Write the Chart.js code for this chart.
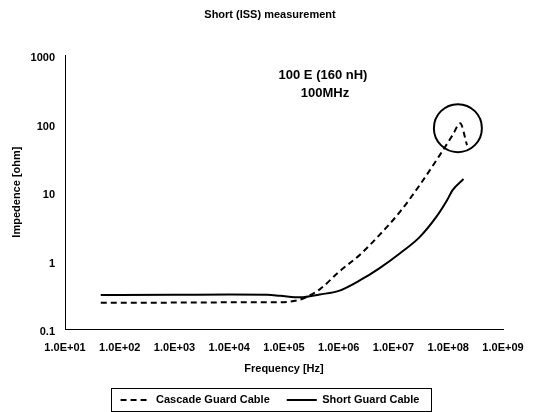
<!DOCTYPE html>
<html>
<head>
<meta charset="utf-8">
<script src="https://cdn.jsdelivr.net/npm/chart.js@4"></script>
<style>
  html, body { margin: 0; padding: 0; background: #fff; }
  #wrap { width: 540px; height: 412px; }
</style>
</head>
<body>
<div id="wrap"><canvas id="chart"></canvas></div>
<script>
// Data (frequency in Hz, impedance in ohm)
const xTicks = [1e1, 1e2, 1e3, 1e4, 1e5, 1e6, 1e7, 1e8, 1e9];
const xTickLabels = ['1.0E+01', '1.0E+02', '1.0E+03', '1.0E+04', '1.0E+05', '1.0E+06', '1.0E+07', '1.0E+08', '1.0E+09'];
const yTicks = [0.1, 1, 10, 100, 1000];
const yTickLabels = ['0.1', '1', '10', '100', '1000'];

const cascadeFreq = [45, 1e2, 1e3, 1e4, 5e4, 1.2e5, 2e5, 4.5e5, 1e6, 2.5e6, 5.5e6, 1.3e7, 3e7, 7e7, 1.2e8, 1.65e8, 2.2e8];
const cascadeZ = [0.242, 0.242, 0.243, 0.245, 0.245, 0.25, 0.27, 0.38, 0.68, 1.24, 2.35, 5.1, 12.6, 34.7, 68, 101, 48.5];

const shortFreq = [45, 1e2, 1e3, 1e4, 5e4, 8.5e4, 2e5, 4.5e5, 1e6, 2.5e6, 5.5e6, 1.3e7, 3e7, 6e7, 9.5e7, 1.2e8, 1.9e8];
const shortZ = [0.315, 0.315, 0.316, 0.318, 0.316, 0.306, 0.29, 0.32, 0.36, 0.52, 0.77, 1.27, 2.2, 4.3, 7.6, 10.7, 15.5];

// circled resonance point
const circleFreq = [1.5e8];
const circleZ = [86];

const seriesNames = ['Cascade Guard Cable', 'Short Guard Cable'];
const annotation = ['100 E (160 nH)', '100MHz'];

const FONT = '"Liberation Sans", Arial, sans-serif';
Chart.defaults.font.family = FONT;
Chart.defaults.font.weight = 'bold';
Chart.defaults.font.size = 11;
Chart.defaults.color = '#000';

const toPoints = (xs, ys) => xs.map((x, i) => ({ x: x, y: ys[i] }));

// annotation text and the frame round the legend
const extras = {
    id: 'extras',
    afterDraw(chart) {
        const ctx = chart.ctx;
        const a = chart.chartArea;
        ctx.save();
        ctx.fillStyle = '#000';
        ctx.textAlign = 'center';
        ctx.textBaseline = 'middle';
        ctx.font = 'bold 13px ' + FONT;
        const ax = a.left + 0.589 * (a.right - a.left);
        ctx.fillText(annotation[0], ax, a.top + 0.073 * (a.bottom - a.top));
        ctx.fillText(annotation[1], ax + 2, a.top + 0.139 * (a.bottom - a.top));
        ctx.restore();

        const boxes = chart.legend.legendHitBoxes;
        if (boxes && boxes.length) {
            const first = boxes[0], last = boxes[boxes.length - 1];
            const cy = first.top + first.height / 2;
            ctx.save();
            ctx.strokeStyle = '#000';
            ctx.lineWidth = 1;
            ctx.strokeRect(Math.round(first.left - 10) + 0.5, Math.round(cy - 12) + 0.5,
                Math.round(last.left + last.width - first.left + 21), 23);
            ctx.restore();
        }
    }
};

new Chart(document.getElementById('chart'), {
    type: 'line',
    data: {
        datasets: [
            {
                label: seriesNames[0],
                data: toPoints(cascadeFreq, cascadeZ),
                borderColor: '#000',
                borderWidth: 2,
                borderDash: [6, 4],
                pointRadius: 0,
                cubicInterpolationMode: 'monotone'
            },
            {
                label: seriesNames[1],
                data: toPoints(shortFreq, shortZ),
                borderColor: '#000',
                borderWidth: 2,
                pointRadius: 0,
                cubicInterpolationMode: 'monotone'
            },
            {
                label: 'circle',
                data: toPoints(circleFreq, circleZ),
                showLine: false,
                pointRadius: 24,
                pointHoverRadius: 24,
                pointBorderWidth: 2,
                pointBorderColor: '#000',
                pointBackgroundColor: 'rgba(0,0,0,0)'
            }
        ]
    },
    options: {
        responsive: true,
        maintainAspectRatio: false,
        animation: false,
        events: [],
        layout: { padding: 0 },
        plugins: {
            title: {
                display: true,
                text: 'Short (ISS) measurement',
                font: { size: 11, weight: 'bold' },
                padding: { top: 8, bottom: 34 }
            },
            legend: {
                position: 'bottom',
                maxHeight: 34.5,
                labels: {
                    usePointStyle: true,
                    pointStyle: 'line',
                    pointStyleWidth: 30,
                    padding: 17,
                    font: { size: 11, weight: 'bold' },
                    filter: item => item.datasetIndex < 2,
                    // keep the dash of each line in its legend sample
                    generateLabels: chart => Chart.defaults.plugins.legend.labels.generateLabels(chart).map(item => {
                        const ds = chart.data.datasets[item.datasetIndex];
                        item.lineDash = ds.borderDash || [];
                        item.lineWidth = 2;
                        return item;
                    })
                }
            },
            tooltip: { enabled: false }
        },
        scales: {
            x: {
                type: 'logarithmic',
                min: 10,
                max: 1e9,
                afterBuildTicks: s => { s.ticks = xTicks.map(v => ({ value: v })); },
                afterFit: s => { s.height = 48.5; },
                grid: { display: false, drawTicks: false, tickLength: 0 },
                border: { display: true, color: '#000', width: 1 },
                ticks: {
                    autoSkip: false,
                    maxRotation: 0,
                    padding: 12,
                    callback: (v, i) => xTickLabels[i]
                },
                title: {
                    display: true,
                    text: 'Frequency [Hz]',
                    font: { size: 11, weight: 'bold' },
                    padding: { top: 0, bottom: 2 }
                }
            },
            y: {
                type: 'logarithmic',
                min: 0.1,
                max: 1000,
                afterBuildTicks: s => { s.ticks = yTicks.map(v => ({ value: v })); },
                afterFit: s => { s.width = 65; },
                grid: { display: false, drawTicks: false, tickLength: 0 },
                border: { display: true, color: '#000', width: 1 },
                ticks: {
                    autoSkip: false,
                    padding: 10,
                    labelOffset: 3,
                    callback: (v, i) => yTickLabels[i]
                },
                title: {
                    display: true,
                    text: 'Impedence [ohm]',
                    font: { size: 11, weight: 'bold' },
                    padding: { top: 10, bottom: 0 }
                }
            },
            // empty right-hand axis that only keeps the plot's right margin
            yRight: {
                position: 'right',
                display: true,
                afterFit: s => { s.width = 37; },
                grid: { display: false, drawTicks: false },
                border: { display: false },
                ticks: { display: false }
            }
        }
    },
    plugins: [extras]
});
</script>
</body>
</html>
